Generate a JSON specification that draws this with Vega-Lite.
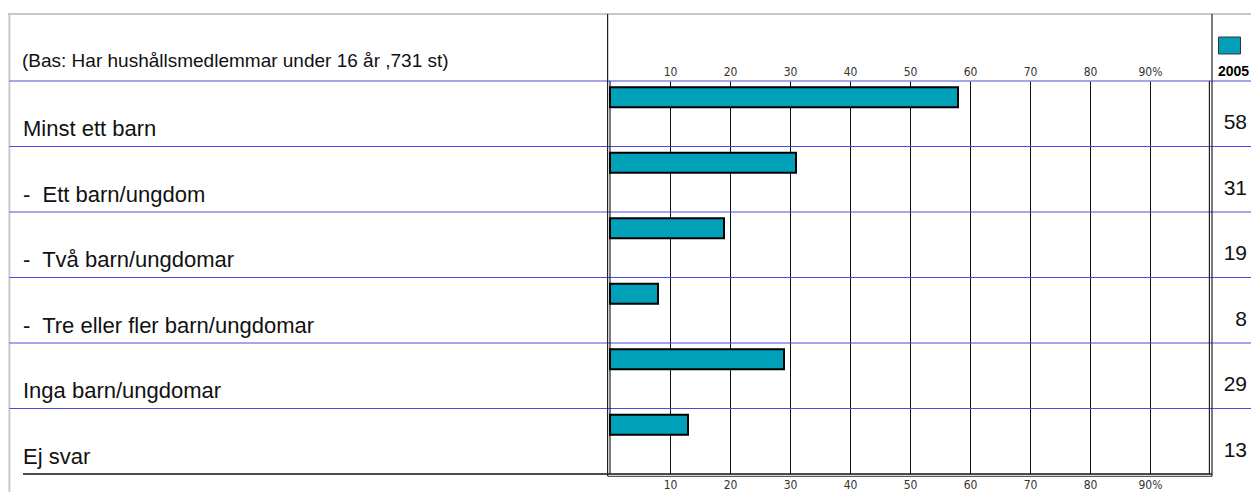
{
  "$schema": "https://vega.github.io/schema/vega-lite/v6.json",
  "width": 1243,
  "height": 393,
  "autosize": {"type": "none"},
  "padding": {"left": 8, "top": 81, "right": 0, "bottom": 18},
  "background": "white",
  "config": {"view": {"stroke": null}, "font": "Liberation Sans"},
  "data": {"values": [
    {"row": 0, "label": "Minst ett barn", "value": 58},
    {"row": 1, "label": "-\u00a0 Ett barn/ungdom", "value": 31},
    {"row": 2, "label": "-\u00a0 Två barn/ungdomar", "value": 19},
    {"row": 3, "label": "-\u00a0 Tre eller fler barn/ungdomar", "value": 8},
    {"row": 4, "label": "Inga barn/ungdomar", "value": 29},
    {"row": 5, "label": "Ej svar", "value": 13}
  ]},
  "resolve": {"axis": {"x": "independent"}},
  "layer": [
    {
      "data": {"values": [{}]},
      "mark": {"type": "rule", "color": "#c8c8c8", "strokeWidth": 2},
      "encoding": {
        "x": {"datum": -100.333, "type": "quantitative", "scale": {"domain": [-100.333, 106.833], "nice": false, "zero": false}, "axis": null},
        "x2": {"datum": 106.833},
        "y": {"datum": -1.023, "type": "quantitative", "scale": {"domain": [0, 6], "reverse": true, "nice": false, "zero": false}, "axis": null}
      }
    },
    {
      "data": {"values": [{}]},
      "mark": {"type": "rule", "color": "#c8c8c8", "strokeWidth": 2},
      "encoding": {
        "x": {"datum": -100.1, "type": "quantitative", "scale": {"domain": [-100.333, 106.833], "nice": false, "zero": false}, "axis": null},
        "y": {"datum": -1.023, "type": "quantitative", "scale": {"domain": [0, 6], "reverse": true, "nice": false, "zero": false}, "axis": null},
        "y2": {"datum": 6.3}
      }
    },
    {
      "mark": {"type": "rule", "color": "#4b4bdf", "strokeWidth": 1.2},
      "encoding": {
        "x": {"datum": -100.1, "type": "quantitative", "scale": {"domain": [-100.333, 106.833], "nice": false, "zero": false}, "axis": null},
        "x2": {"datum": 106.833},
        "y": {"field": "row", "type": "quantitative", "scale": {"domain": [0, 6], "reverse": true, "nice": false, "zero": false}, "axis": null}
      }
    },
    {
      "data": {"values": [{}]},
      "mark": {"type": "rule", "color": "#111", "strokeWidth": 1.5},
      "encoding": {
        "x": {"datum": -97.833, "type": "quantitative", "scale": {"domain": [-100.333, 106.833], "nice": false, "zero": false}, "axis": null},
        "x2": {"datum": 100.333},
        "y": {"datum": 6, "type": "quantitative", "scale": {"domain": [0, 6], "reverse": true, "nice": false, "zero": false}, "axis": null}
      }
    },
    {
      "data": {"values": [{}]},
      "mark": {"type": "rule", "color": "#333", "strokeWidth": 1},
      "encoding": {
        "x": {"datum": -0.333, "type": "quantitative", "scale": {"domain": [-100.333, 106.833], "nice": false, "zero": false}, "axis": null},
        "x2": {"datum": 100.333},
        "y": {"datum": 6.035, "type": "quantitative", "scale": {"domain": [0, 6], "reverse": true, "nice": false, "zero": false}, "axis": null}
      }
    },
    {
      "data": {"values": [{"edge": -0.4}, {"edge": 100.333}]},
      "mark": {"type": "rule", "color": "#222", "strokeWidth": 1.2},
      "encoding": {
        "x": {"field": "edge", "type": "quantitative", "scale": {"domain": [-100.333, 106.833], "nice": false, "zero": false}, "axis": null},
        "y": {"datum": -1.023, "type": "quantitative", "scale": {"domain": [0, 6], "reverse": true, "nice": false, "zero": false}, "axis": null},
        "y2": {"datum": 6.035}
      }
    },
    {
      "data": {"values": [{"edge": 0}, {"edge": 99.9}]},
      "mark": {"type": "rule", "color": "#222", "strokeWidth": 1.2},
      "encoding": {
        "x": {"field": "edge", "type": "quantitative", "scale": {"domain": [-100.333, 106.833], "nice": false, "zero": false},
          "axis": {"orient": "bottom", "title": null, "values": [10, 20, 30, 40, 50, 60, 70, 80, 90],
            "labelExpr": "datum.value == 90 ? '90%' : datum.label",
            "grid": false, "ticks": false, "tickSize": 0, "domain": false,
            "labelFont": "Liberation Sans Narrow, DejaVu Sans Condensed, Liberation Sans", "labelFontSize": 12, "labelColor": "#333", "labelPadding": 5}},
        "y": {"datum": 0, "type": "quantitative", "scale": {"domain": [0, 6], "reverse": true, "nice": false, "zero": false}, "axis": null},
        "y2": {"datum": 6}
      }
    },
    {
      "mark": {"type": "rect", "stroke": "#000", "strokeWidth": 2, "yOffset": 6.3, "y2Offset": 26.3},
      "encoding": {
        "x": {"field": "value", "type": "quantitative", "scale": {"domain": [-100.333, 106.833], "nice": false, "zero": false},
          "axis": {"orient": "top", "title": null, "values": [10, 20, 30, 40, 50, 60, 70, 80, 90],
            "labelExpr": "datum.value == 90 ? '90%' : datum.label",
            "grid": true, "gridColor": "#111", "gridWidth": 1, "gridOpacity": 1,
            "ticks": false, "tickSize": 0, "domain": false,
            "labelFont": "Liberation Sans Narrow, DejaVu Sans Condensed, Liberation Sans", "labelFontSize": 12, "labelColor": "#333", "labelPadding": 3}},
        "x2": {"datum": 0},
        "y": {"field": "row", "type": "quantitative", "scale": {"domain": [0, 6], "reverse": true, "nice": false, "zero": false}, "axis": null},
        "y2": {"field": "row"},
        "color": {"datum": "2005", "type": "nominal", "scale": {"range": ["#00A0B8"]},
          "legend": {"orient": "none", "legendX": 1210, "legendY": -47, "title": "2005", "titleOrient": "bottom",
            "titleFont": "Liberation Sans", "titleFontWeight": "bold", "titleFontSize": 14,
            "titleColor": "#000", "titlePadding": 9, "labelExpr": "''", "labelFontSize": 1,
            "symbolType": "M-1,-0.77H1V0.77H-1Z", "symbolSize": 484, "symbolStrokeColor": "#333", "symbolStrokeWidth": 1,
            "symbolOpacity": 1, "padding": 0, "symbolOffset": 0, "labelOffset": 0}}
      }
    },
    {
      "mark": {"type": "text", "align": "left", "baseline": "alphabetic", "fontSize": 22, "dy": 55, "color": "#111"},
      "encoding": {
        "x": {"datum": -97.833, "type": "quantitative", "scale": {"domain": [-100.333, 106.833], "nice": false, "zero": false}, "axis": null},
        "y": {"field": "row", "type": "quantitative", "scale": {"domain": [0, 6], "reverse": true, "nice": false, "zero": false}, "axis": null},
        "text": {"field": "label"}
      }
    },
    {
      "mark": {"type": "text", "align": "right", "baseline": "alphabetic", "fontSize": 21, "dy": 48, "color": "#111"},
      "encoding": {
        "x": {"datum": 106.167, "type": "quantitative", "scale": {"domain": [-100.333, 106.833], "nice": false, "zero": false}, "axis": null},
        "y": {"field": "row", "type": "quantitative", "scale": {"domain": [0, 6], "reverse": true, "nice": false, "zero": false}, "axis": null},
        "text": {"field": "value"}
      }
    },
    {
      "data": {"values": [{"note": "(Bas: Har hushållsmedlemmar under 16 år ,731 st)"}]},
      "mark": {"type": "text", "align": "left", "baseline": "alphabetic", "fontSize": 19, "color": "#111"},
      "encoding": {
        "x": {"datum": -98, "type": "quantitative", "scale": {"domain": [-100.333, 106.833], "nice": false, "zero": false}, "axis": null},
        "y": {"datum": -0.214, "type": "quantitative", "scale": {"domain": [0, 6], "reverse": true, "nice": false, "zero": false}, "axis": null},
        "text": {"field": "note"}
      }
    }
  ]
}
